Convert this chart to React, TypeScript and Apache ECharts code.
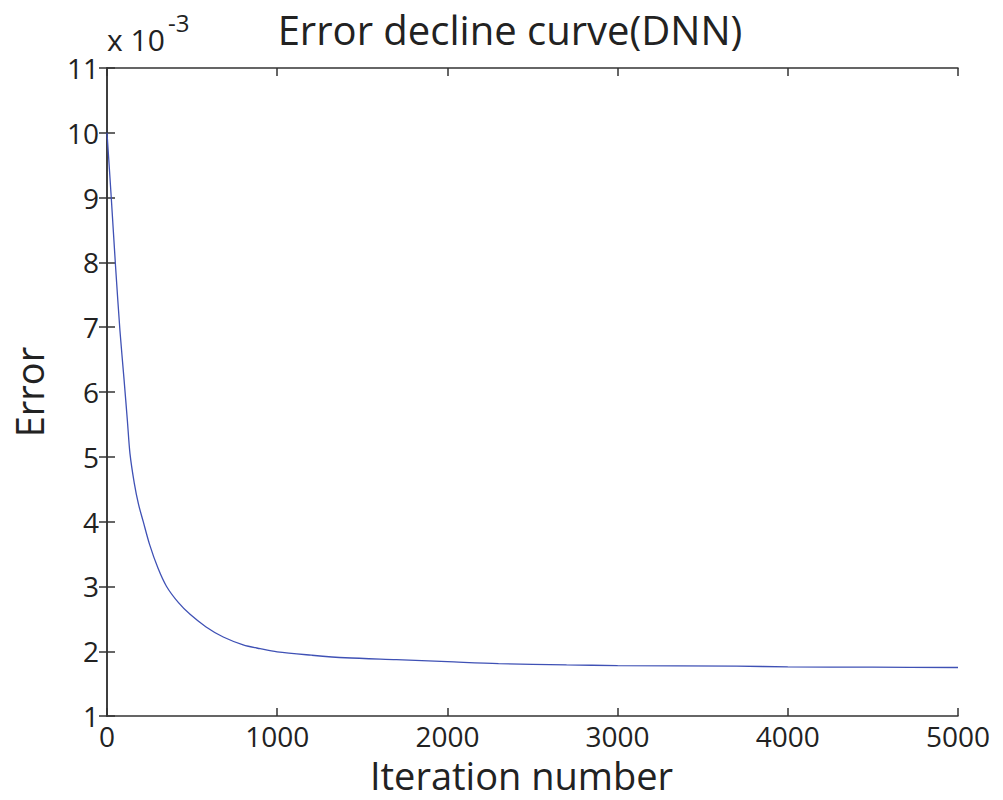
import React, { useEffect, useRef } from "react";
import * as echarts from "echarts";

const iterations = [0, 25, 50, 76, 100, 120, 135, 160, 185, 213, 250, 300, 350, 420, 488, 580, 683, 800, 900, 1000, 1200, 1400, 1700, 2000, 2300, 2700, 3000, 3700, 4000, 4500, 5000];
const errors = [10.0, 9.0, 7.95, 6.95, 6.2, 5.55, 5.05, 4.6, 4.27, 4.0, 3.65, 3.28, 3.0, 2.75, 2.57, 2.38, 2.22, 2.1, 2.04, 1.99, 1.94, 1.9, 1.87, 1.84, 1.81, 1.79, 1.78, 1.77, 1.76, 1.755, 1.75];
const xTicks = [0, 1000, 2000, 3000, 4000, 5000];
const yTicks = [1, 2, 3, 4, 5, 6, 7, 8, 9, 10, 11];

const FONT = "Open Sans";

export default function App() {
  const ref = useRef<HTMLDivElement>(null);
  useEffect(() => {
    if (!ref.current) return;
    const chart = echarts.init(ref.current, null, { renderer: "svg" });
    const axisLine = { show: true, lineStyle: { color: "#333", width: 1.5 } };
    const tick = { show: true, inside: true, length: 8, lineStyle: { color: "#333", width: 1.5 } };
    chart.setOption({
      animation: false,
      backgroundColor: "#fff",
      title: {
        text: "Error decline curve(DNN)",
        left: 505,
        top: 4,
        textAlign: "center",
        textStyle: { fontFamily: FONT, fontSize: 40, fontWeight: "normal", color: "#222" },
      },
      graphic: [
        { type: "text", left: 107, top: 24, style: { text: "x 10", fontFamily: FONT, fontSize: 30, fill: "#222" } },
        { type: "text", left: 168, top: 10, style: { text: "-3", fontFamily: FONT, fontSize: 24, fill: "#222" } },
      ],
      grid: { left: 107, right: 45, top: 68, bottom: 77, containLabel: false },
      xAxis: [
        {
          type: "value",
          min: 0,
          max: 5000,
          interval: 1000,
          position: "bottom",
          name: "Iteration number",
          nameLocation: "middle",
          nameGap: 28,
          nameTextStyle: { fontFamily: FONT, fontSize: 38, lineHeight: 40, color: "#222", verticalAlign: "top", padding: [0, 22, 0, 0] },
          axisLine,
          axisTick: tick,
          splitLine: { show: false },
          axisLabel: { fontFamily: FONT, fontSize: 28, lineHeight: 20, color: "#222", margin: 10, formatter: (v: number) => (xTicks.includes(v) ? String(v) : "") },
        },
        {
          type: "value",
          min: 0,
          max: 5000,
          interval: 1000,
          position: "top",
          axisLine,
          axisTick: tick,
          splitLine: { show: false },
          axisLabel: { show: false },
        },
      ],
      yAxis: [
        {
          type: "value",
          min: 1,
          max: 11,
          interval: 1,
          position: "left",
          name: "Error",
          nameLocation: "middle",
          nameGap: 59,
          nameTextStyle: { fontFamily: FONT, fontSize: 38, color: "#222" },
          axisLine,
          axisTick: tick,
          splitLine: { show: false },
          axisLabel: { fontFamily: FONT, fontSize: 28, color: "#222", margin: 8, formatter: (v: number) => (yTicks.includes(v) ? String(v) : "") },
        },
        {
          type: "value",
          min: 1,
          max: 11,
          interval: 1,
          position: "right",
          axisLine,
          axisTick: tick,
          splitLine: { show: false },
          axisLabel: { show: false },
        },
      ],
      series: [
        {
          type: "line",
          data: iterations.map((x, i) => [x, errors[i]]),
          smooth: 0.3,
          showSymbol: false,
          lineStyle: { color: "#3f51b5", width: 1.3 },
          xAxisIndex: 0,
          yAxisIndex: 0,
        },
      ],
    });
    return () => chart.dispose();
  }, []);
  return <div ref={ref} style={{ position: "fixed", left: 0, top: 0, width: 1003, height: 800 }} />;
}
